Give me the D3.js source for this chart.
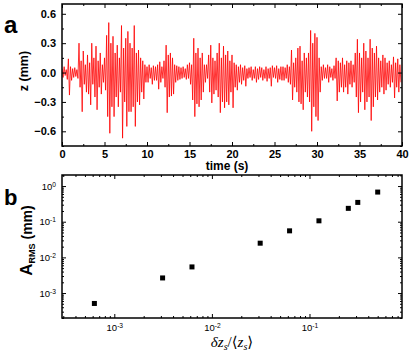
<!DOCTYPE html>
<html>
<head>
<meta charset="utf-8">
<script src="https://cdn.jsdelivr.net/npm/d3@7"></script>
<style>
  body { margin: 0; background: #fff; }
  svg { display: block; font-family: Arial, "Liberation Sans", sans-serif; }
</style>
</head>
<body>
<div id="chart"></div>
<script>
// Panel a: upper / lower swing of z (mm), one pair every 0.25 s from t = 0
const stepT = 0.25;
const zHigh = [
  0.04, 0.06, 0.03, 0.14,  0.06, 0.04, 0.05, 0.03,  0.30, 0.12, 0.22, 0.08,  0.18, 0.10, 0.30, 0.15,
  0.27, 0.12, 0.20, 0.08,  0.15, 0.38, 0.51, 0.30,  0.37, 0.20, 0.28, 0.15,  0.48, 0.25, 0.35, 0.42,
  0.30, 0.25, 0.48, 0.20,  0.23, 0.15, 0.12, 0.08,  0.06, 0.08, 0.05, 0.07,  0.06, 0.08, 0.11, 0.06,
  0.12, 0.28, 0.18, 0.20,  0.15, 0.08, 0.07, 0.06,  0.05, 0.06, 0.04, 0.08,  0.10, 0.08, 0.35, 0.20,
  0.25, 0.15, 0.20, 0.08,  0.08, 0.18, 0.28, 0.15,  0.12, 0.20, 0.30, 0.15,  0.27, 0.18, 0.22, 0.12,
  0.18, 0.10, 0.08, 0.06,  0.08, 0.05, 0.07, 0.04,  0.05, 0.06, 0.03, 0.06,  0.04, 0.06, 0.05, 0.03,
  0.06, 0.04, 0.05, 0.07,  0.05, 0.07, 0.04, 0.06,  0.06, 0.05, 0.08, 0.06,  0.23, 0.10, 0.15, 0.25,
  0.27, 0.12, 0.20, 0.15,  0.20, 0.43, 0.30, 0.40,  0.36, 0.15, 0.06, 0.08,  0.05, 0.08, 0.06, 0.04,
  0.07, 0.15, 0.12, 0.10,  0.15, 0.08, 0.12, 0.10,  0.12, 0.08, 0.20, 0.34,  0.20, 0.15, 0.30, 0.22,
  0.15, 0.34, 0.25, 0.20,  0.27, 0.15, 0.12, 0.18,  0.15, 0.10, 0.12, 0.08,  0.16, 0.10, 0.14, 0.08
];
const zLow = [
  -0.05, -0.03, -0.07, -0.23,  -0.08, -0.05, -0.04, -0.06,  -0.15, -0.40, -0.12, -0.20,  -0.22, -0.33, -0.12, -0.25,
  -0.38, -0.15, -0.22, -0.10,  -0.18, -0.45, -0.62, -0.35,  -0.45, -0.25, -0.35, -0.20,  -0.67, -0.30, -0.55, -0.40,
  -0.40, -0.35, -0.55, -0.30,  -0.33, -0.20, -0.27, -0.10,  -0.10, -0.06, -0.12, -0.08,  -0.08, -0.17, -0.10, -0.06,
  -0.15, -0.41, -0.25, -0.24,  -0.22, -0.10, -0.08, -0.07,  -0.06, -0.05, -0.07, -0.06,  -0.12, -0.28, -0.45, -0.32,
  -0.35, -0.28, -0.20, -0.10,  -0.06, -0.20, -0.31, -0.22,  -0.18, -0.25, -0.41, -0.30,  -0.36, -0.30, -0.33, -0.20,
  -0.36, -0.15, -0.18, -0.10,  -0.12, -0.08, -0.14, -0.06,  -0.05, -0.08, -0.06, -0.10,  -0.07, -0.05, -0.08, -0.06,
  -0.09, -0.06, -0.14, -0.05,  -0.06, -0.10, -0.07, -0.08,  -0.08, -0.06, -0.10, -0.12,  -0.28, -0.15, -0.20, -0.30,
  -0.32, -0.38, -0.20, -0.25,  -0.30, -0.60, -0.35, -0.45,  -0.49, -0.20, -0.08, -0.06,  -0.06, -0.10, -0.05, -0.08,
  -0.06, -0.29, -0.20, -0.15,  -0.20, -0.15, -0.22, -0.12,  -0.15, -0.10, -0.25, -0.41,  -0.30, -0.20, -0.38, -0.30,
  -0.25, -0.49, -0.35, -0.25,  -0.28, -0.20, -0.15, -0.22,  -0.18, -0.12, -0.15, -0.10,  -0.26, -0.15, -0.20, -0.10
];
const timeTicks = [0, 5, 10, 15, 20, 25, 30, 35, 40];
const timeMinor = [2.5, 7.5, 12.5, 17.5, 22.5, 27.5, 32.5, 37.5];
const zTicks = [-0.6, -0.3, 0.0, 0.3, 0.6];
const zMinor = [-0.75, -0.45, -0.15, 0.15, 0.45];

// Panel b: RMS amplitude vs relative stroke
const strokeRel = [0.000625, 0.003125, 0.00625, 0.03125, 0.0625, 0.125, 0.25, 0.3125, 0.5];
const ampRms = [0.00051, 0.00265, 0.0054, 0.025, 0.0555, 0.106, 0.237, 0.348, 0.678];
const strokeTicks = [1e-3, 1e-2, 1e-1];
const ampTicks = [1e-3, 1e-2, 1e-1, 1];

const width = 415, height = 353;
const pa = { left: 62, right: 402, top: 4, bottom: 146 };
const pb = { left: 62, right: 402, top: 175, bottom: 318 };

const svg = d3.select("#chart").append("svg")
  .attr("width", width)
  .attr("height", height);

// ---------- panel a ----------
const x = d3.scaleLinear().domain([0, 40]).range([pa.left, pa.right]);
const y = d3.scaleLinear().domain([-0.75, 0.7]).range([pa.bottom, pa.top]);

svg.append("clipPath").attr("id", "clipA")
  .append("rect")
  .attr("x", pa.left).attr("y", pa.top)
  .attr("width", pa.right - pa.left).attr("height", pa.bottom - pa.top);

const pts = [];
zHigh.forEach((h, i) => {
  pts.push([i * stepT, h]);
  pts.push([i * stepT + stepT / 2, zLow[i]]);
});

svg.append("path")
  .datum(pts)
  .attr("clip-path", "url(#clipA)")
  .attr("fill", "none")
  .attr("stroke", "#ff0000")
  .attr("stroke-width", 0.8)
  .attr("d", d3.line().x(d => x(d[0])).y(d => y(d[1])));

function inward(g) {
  g.select(".domain").remove();
  g.selectAll(".tick line").attr("stroke", "#000").attr("stroke-width", 1);
}

// bottom / top
svg.append("g").attr("transform", `translate(0,${pa.bottom})`)
  .call(d3.axisBottom(x).tickValues(timeTicks).tickSize(-4).tickPadding(4).tickFormat(d3.format("d")))
  .call(inward)
  .call(g => g.selectAll("text").attr("font-size", 11).attr("font-weight", "bold").attr("fill", "#000"));
svg.append("g").attr("transform", `translate(0,${pa.bottom})`)
  .call(d3.axisBottom(x).tickValues(timeMinor).tickSize(-2).tickFormat(""))
  .call(inward);
svg.append("g").attr("transform", `translate(0,${pa.top})`)
  .call(d3.axisTop(x).tickValues(timeTicks).tickSize(-4).tickFormat(""))
  .call(inward);
svg.append("g").attr("transform", `translate(0,${pa.top})`)
  .call(d3.axisTop(x).tickValues(timeMinor).tickSize(-2).tickFormat(""))
  .call(inward);

// left / right
svg.append("g").attr("transform", `translate(${pa.left},0)`)
  .call(d3.axisLeft(y).tickValues(zTicks).tickSize(-4).tickPadding(6).tickFormat(d3.format(".1f")))
  .call(inward)
  .call(g => g.selectAll("text").attr("font-size", 11).attr("font-weight", "bold").attr("fill", "#000"));
svg.append("g").attr("transform", `translate(${pa.left},0)`)
  .call(d3.axisLeft(y).tickValues(zMinor).tickSize(-2).tickFormat(""))
  .call(inward);
svg.append("g").attr("transform", `translate(${pa.right},0)`)
  .call(d3.axisRight(y).tickValues(zTicks).tickSize(-4).tickFormat(""))
  .call(inward);
svg.append("g").attr("transform", `translate(${pa.right},0)`)
  .call(d3.axisRight(y).tickValues(zMinor).tickSize(-2).tickFormat(""))
  .call(inward);

svg.append("rect")
  .attr("x", pa.left).attr("y", pa.top)
  .attr("width", pa.right - pa.left).attr("height", pa.bottom - pa.top)
  .attr("fill", "none").attr("stroke", "#000").attr("stroke-width", 1.5);

svg.append("text")
  .attr("x", (pa.left + pa.right) / 2 - 5).attr("y", 170)
  .attr("text-anchor", "middle")
  .attr("font-size", 12).attr("font-weight", "bold")
  .text("time (s)");

svg.append("text")
  .attr("transform", `translate(28,${(pa.top + pa.bottom) / 2 - 4}) rotate(-90)`)
  .attr("text-anchor", "middle")
  .attr("font-size", 12.5).attr("font-weight", "bold")
  .text("z (mm)");

svg.append("text")
  .attr("x", 4).attr("y", 33)
  .attr("font-size", 24).attr("font-weight", "bold")
  .text("a");

// ---------- panel b ----------
const xb = d3.scaleLog().domain([10 ** -3.536, 10 ** -0.052]).range([pb.left, pb.right]);
const yb = d3.scaleLog().domain([10 ** -3.7, 10 ** 0.31]).range([pb.bottom, pb.top]);

const xbMinor = xb.ticks().filter(v => !strokeTicks.some(t => Math.abs(t - v) / t < 1e-6));
const ybMinor = yb.ticks().filter(v => !ampTicks.some(t => Math.abs(t - v) / t < 1e-6));

function powLabel(g) {
  g.selectAll(".tick text").each(function (d) {
    const t = d3.select(this);
    const e = Math.round(Math.log10(d));
    t.text(null);
    t.append("tspan").text("10");
    t.append("tspan").attr("dy", "-0.45em").attr("font-size", "0.7em").text(e);
  });
}

svg.append("g").attr("transform", `translate(0,${pb.bottom})`)
  .call(d3.axisBottom(xb).tickValues(strokeTicks).tickSize(-4).tickPadding(6))
  .call(inward)
  .call(g => g.selectAll("text").attr("font-size", 9.5).attr("fill", "#000"))
  .call(powLabel);
svg.append("g").attr("transform", `translate(0,${pb.bottom})`)
  .call(d3.axisBottom(xb).tickValues(xbMinor).tickSize(-2).tickFormat(""))
  .call(inward);
svg.append("g").attr("transform", `translate(0,${pb.top})`)
  .call(d3.axisTop(xb).tickValues(strokeTicks).tickSize(-4).tickFormat(""))
  .call(inward);
svg.append("g").attr("transform", `translate(0,${pb.top})`)
  .call(d3.axisTop(xb).tickValues(xbMinor).tickSize(-2).tickFormat(""))
  .call(inward);

svg.append("g").attr("transform", `translate(${pb.left},0)`)
  .call(d3.axisLeft(yb).tickValues(ampTicks).tickSize(-4).tickPadding(6))
  .call(inward)
  .call(g => g.selectAll("text").attr("font-size", 9.5).attr("fill", "#000"))
  .call(powLabel);
svg.append("g").attr("transform", `translate(${pb.left},0)`)
  .call(d3.axisLeft(yb).tickValues(ybMinor).tickSize(-2).tickFormat(""))
  .call(inward);
svg.append("g").attr("transform", `translate(${pb.right},0)`)
  .call(d3.axisRight(yb).tickValues(ampTicks).tickSize(-4).tickFormat(""))
  .call(inward);
svg.append("g").attr("transform", `translate(${pb.right},0)`)
  .call(d3.axisRight(yb).tickValues(ybMinor).tickSize(-2).tickFormat(""))
  .call(inward);

svg.append("rect")
  .attr("x", pb.left).attr("y", pb.top)
  .attr("width", pb.right - pb.left).attr("height", pb.bottom - pb.top)
  .attr("fill", "none").attr("stroke", "#000").attr("stroke-width", 1.5);

svg.selectAll(".pt")
  .data(strokeRel.map((v, i) => [v, ampRms[i]]))
  .enter()
  .append("rect")
  .attr("class", "pt")
  .attr("x", d => xb(d[0]) - 2.5)
  .attr("y", d => yb(d[1]) - 2.5)
  .attr("width", 5).attr("height", 5)
  .attr("fill", "#000");

// x label: δz_s/⟨z_s⟩
const xl = svg.append("text")
  .attr("x", 232).attr("y", 347)
  .attr("text-anchor", "middle")
  .attr("font-family", "'Liberation Serif', 'DejaVu Serif', serif")
  .attr("font-size", 15);
xl.append("tspan").attr("font-style", "italic").text("δz");
xl.append("tspan").attr("font-style", "italic").attr("font-size", 10).attr("dy", 3).text("s");
xl.append("tspan").attr("dy", -3).text("/⟨");
xl.append("tspan").attr("font-style", "italic").text("z");
xl.append("tspan").attr("font-style", "italic").attr("font-size", 10).attr("dy", 3).text("s");
xl.append("tspan").attr("dy", -3).text("⟩");

// y label: A_RMS (mm)
const yl = svg.append("text")
  .attr("transform", `translate(32,${(pb.top + pb.bottom) / 2 - 6}) rotate(-90)`)
  .attr("text-anchor", "middle")
  .attr("font-size", 14).attr("font-weight", "bold");
yl.append("tspan").attr("font-size", 17).text("A");
yl.append("tspan").attr("font-size", 9).attr("dy", 3).text("RMS");
yl.append("tspan").attr("dy", -3).text(" (mm)");

svg.append("text")
  .attr("x", 4).attr("y", 205)
  .attr("font-size", 22).attr("font-weight", "bold")
  .text("b");
</script>
</body>
</html>
